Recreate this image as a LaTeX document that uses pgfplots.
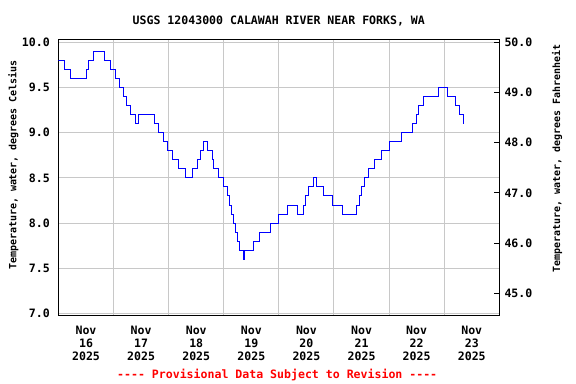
\documentclass[border=0pt]{standalone}
\usepackage{fontspec}
\setmonofont{DejaVu Sans Mono}
\renewcommand{\familydefault}{\ttdefault}
\usepackage{pgfplots}
\pgfplotsset{compat=1.18}
\definecolor{gridgray}{RGB}{200,200,200}
\newcommand{\tfont}{\fontsize{11.6}{13}\selectfont\ttfamily\bfseries}
\begin{document}
\begin{tikzpicture}
\path[use as bounding box] (0bp,0bp) rectangle (576bp,384bp);
\begin{axis}[
  at={(58.3bp,68bp)}, anchor=south west, scale only axis,
  width=441bp, height=276.7bp,
  xmin=-0.503, xmax=7.5, ymin=6.97, ymax=10.035,
  xtick={0,1,2,3,4,5,6,7},
  xticklabels={{Nov\\16\\2025},{Nov\\17\\2025},{Nov\\18\\2025},{Nov\\19\\2025},{Nov\\20\\2025},{Nov\\21\\2025},{Nov\\22\\2025},{Nov\\23\\2025}},
  minor xtick={0.5,1.5,2.5,3.5,4.5,5.5,6.5},
  xminorgrids=true, xmajorgrids=false,
  ytick={7,7.5,8,8.5,9,9.5,10}, ymajorgrids=true,
  grid style={gridgray, line width=1bp},
  minor grid style={gridgray, line width=1bp},
  major tick length=0pt, minor tick length=0pt,
  axis line style={line width=1bp},
  ticklabel style={font=\tfont, inner sep=0pt},
  xticklabel style={align=center, anchor=north, yshift=-9.5bp},
  yticklabel style={anchor=east, xshift=-8.3bp},
  yticklabel={\pgfmathprintnumber[fixed,fixed zerofill,precision=1,assume math mode=true]{\tick}},
  ytick pos=left,
]
\addplot[draw={rgb,255:red,0;green,0;blue,255}, line width=0.9bp, const plot] coordinates {
(-0.503,9.8) (-0.39,9.7) (-0.28,9.6) (0.01,9.7) (0.04,9.8) (0.13,9.9)
(0.34,9.8) (0.44,9.7) (0.53,9.6) (0.60,9.5) (0.68,9.4) (0.74,9.3)
(0.81,9.2) (0.89,9.1) (0.95,9.2) (1.24,9.1) (1.31,9.0) (1.40,8.9)
(1.47,8.8) (1.56,8.7) (1.67,8.6) (1.80,8.5) (1.93,8.6) (2.03,8.7)
(2.07,8.8) (2.13,8.9) (2.20,8.8) (2.30,8.7) (2.32,8.6) (2.40,8.5)
(2.49,8.4) (2.56,8.3) (2.60,8.2) (2.64,8.1) (2.68,8.0) (2.71,7.9)
(2.74,7.8) (2.78,7.7) (2.86,7.6) (2.875,7.7) (3.04,7.8) (3.15,7.9)
(3.34,8.0) (3.50,8.1) (3.65,8.2) (3.84,8.1) (3.95,8.2) (3.99,8.3)
(4.03,8.4) (4.13,8.5) (4.19,8.4) (4.31,8.3) (4.48,8.2) (4.65,8.1)
(4.91,8.2) (4.96,8.3) (5.00,8.4) (5.05,8.5) (5.12,8.6) (5.23,8.7)
(5.36,8.8) (5.51,8.9) (5.72,9.0) (5.92,9.1) (6.00,9.2) (6.04,9.3)
(6.13,9.4) (6.39,9.5) (6.56,9.4) (6.71,9.3) (6.78,9.2) (6.85,9.1)
};
\end{axis}
\begin{axis}[
  at={(58.3bp,68bp)}, anchor=south west, scale only axis,
  width=441bp, height=276.7bp,
  xmin=-0.503, xmax=7.5, ymin=44.546, ymax=50.063,
  hide x axis, axis y line*=right,
  axis line style={line width=1bp, -},
  ytick={45,46,47,48,49,50}, ytick align=inside,
  major tick length=5bp, tick style={line width=1bp, black},
  ticklabel style={font=\tfont, inner sep=0pt},
  yticklabel style={anchor=west, xshift=5bp},
  yticklabel={\pgfmathprintnumber[fixed,fixed zerofill,precision=1,assume math mode=true]{\tick}},
]
\end{axis}
\node[anchor=base, font=\tfont] at (278.8bp,359.7bp) {USGS 12043000 CALAWAH RIVER NEAR FORKS, WA};
\node[anchor=base, font=\tfont, text={rgb,255:red,255;green,0;blue,0}] at (277.2bp,5.7bp) {---- Provisional Data Subject to Revision ----};
\node[rotate=90, font=\fontsize{10}{12}\selectfont\ttfamily\bfseries] at (13.3bp,219bp) {Temperature, water, degrees Celsius};
\node[rotate=90, font=\fontsize{10}{12}\selectfont\ttfamily\bfseries] at (557bp,225.7bp) {Temperature, water, degrees Fahrenheit};
\end{tikzpicture}
\end{document}
